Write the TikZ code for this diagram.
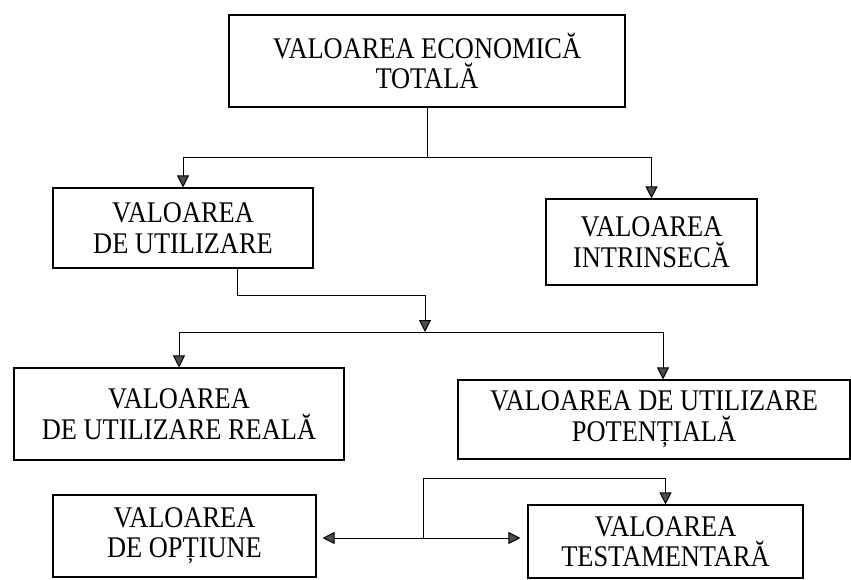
\documentclass[tikz,border=0pt]{standalone}
\usepackage{fontspec}
\setmainfont{Liberation Serif}[FakeStretch=0.88]
\usetikzlibrary{arrows.meta}
\begin{document}
\begin{tikzpicture}[x=1pt,y=-1pt,
  box/.style={draw, line width=1.1pt, align=center, inner sep=0pt,
    font=\fontsize{30}{30.5}\selectfont},
  conn/.style={line width=1pt},
  tip/.tip={Triangle[length=12pt,width=12pt,fill=black!70]},
  arr/.style={-tip},
  darr/.style={tip-tip}]
\useasboundingbox (0,0) rectangle (851,580);
\node[box, minimum width=396pt, minimum height=92pt] (tot) at (427,61) {VALOAREA ECONOMICĂ\\TOTALĂ};
\node[box, minimum width=260pt, minimum height=80pt] (util) at (183,228) {VALOAREA\\DE UTILIZARE};
\node[box, minimum width=211pt, minimum height=86pt] (intr) at (651.5,242) {VALOAREA\\INTRINSECĂ};
\node[box, minimum width=330pt, minimum height=92pt] (real) at (179,414) {VALOAREA\\DE UTILIZARE REALĂ};
\node[box, minimum width=392pt, minimum height=79pt] (pot) at (654,419.5) {VALOAREA DE UTILIZARE\\POTENȚIALĂ};
\node[box, minimum width=263pt, minimum height=82pt] (opt) at (184.5,536) {VALOAREA\\DE OPȚIUNE};
\node[box, minimum width=275pt, minimum height=73pt] (test) at (665.5,541.5) {VALOAREA\\TESTAMENTARĂ};
\coordinate (j1) at (427,158);
\coordinate (k) at (425,295);
\coordinate (j2) at (425,332);
\coordinate (j3) at (423,538);
\coordinate (j4) at (423,478);
\draw[conn] (tot.south) -- (j1);
\draw[conn,arr] (j1) -| (util.north);
\draw[conn,arr] (j1) -| (intr.north);
\draw[conn,arr] ([xshift=54pt]util.south) |- (k) -- (j2);
\draw[conn,arr] (j2) -| (real.north);
\draw[conn,arr] (j2) -| ([xshift=9pt]pot.north);
\draw[conn,arr] (j3) -- (j4) -| (test.north);
\draw[conn,darr,shorten <=6pt,shorten >=7pt] (opt.east |- j3) -- (test.west |- j3);
\end{tikzpicture}
\end{document}
